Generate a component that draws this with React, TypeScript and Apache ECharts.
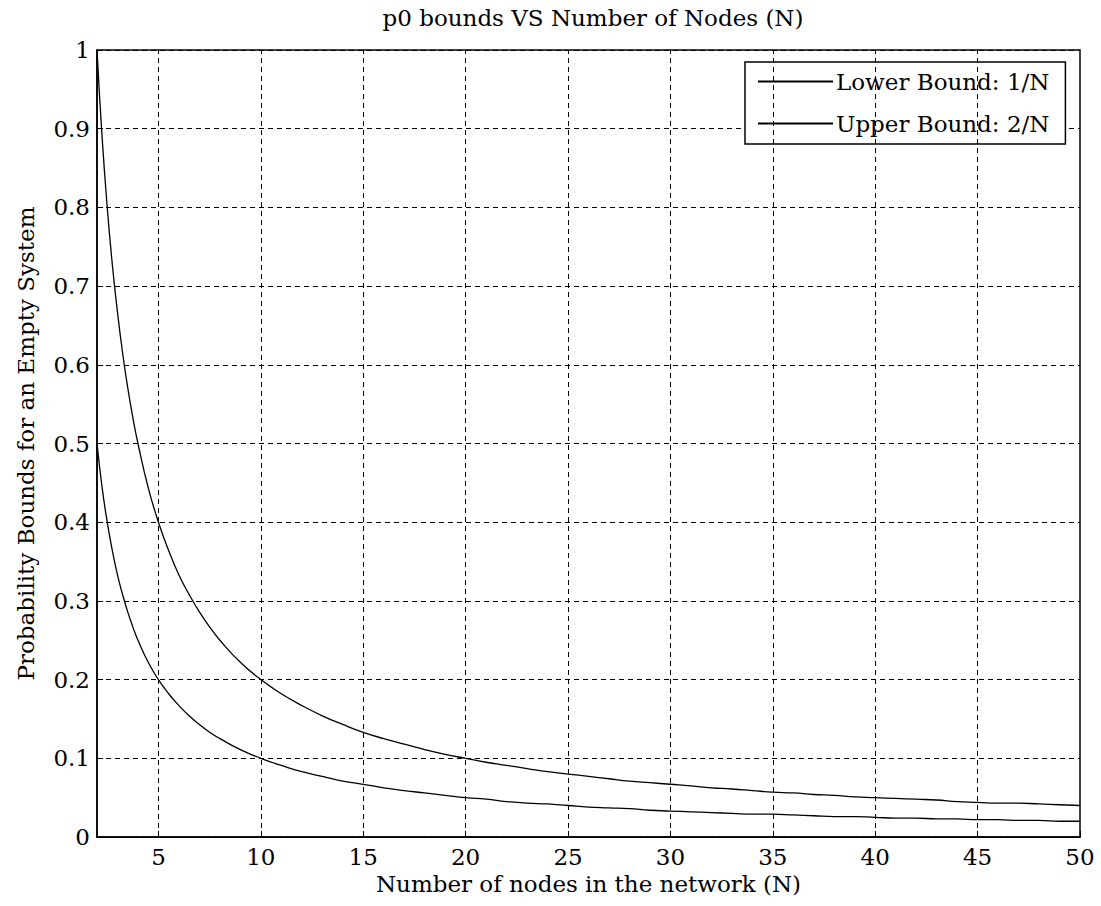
import React, { useEffect, useRef } from "react";
import * as echarts from "echarts";

const titleText = "p0 bounds VS Number of Nodes (N)";
const xName = "Number of nodes in the network (N)";
const yName = "Probability Bounds for an Empty System";
const seriesNames = ["Lower Bound: 1/N", "Upper Bound: 2/N"];

const nodes = [
  2, 2.25, 2.5, 2.75, 3, 3.25, 3.5, 3.75, 4, 4.5, 5, 5.5, 6, 6.5, 7, 7.5, 8, 9,
  10, 11, 12, 13, 14, 15, 16, 17, 18, 19, 20, 21, 22, 23, 24, 25, 26, 27, 28, 29,
  30, 31, 32, 33, 34, 35, 36, 37, 38, 39, 40, 41, 42, 43, 44, 45, 46, 47, 48, 49, 50,
];
const lowerBound = [
  0.5, 0.444, 0.4, 0.364, 0.333, 0.308, 0.286, 0.267, 0.25, 0.222, 0.2, 0.182,
  0.167, 0.154, 0.143, 0.133, 0.125, 0.111, 0.1, 0.091, 0.083, 0.077, 0.071,
  0.067, 0.0625, 0.059, 0.056, 0.053, 0.05, 0.048, 0.045, 0.043, 0.042, 0.04,
  0.038, 0.037, 0.036, 0.034, 0.033, 0.032, 0.031, 0.03, 0.029, 0.029, 0.028,
  0.027, 0.026, 0.026, 0.025, 0.024, 0.024, 0.023, 0.023, 0.022, 0.022, 0.021,
  0.021, 0.02, 0.02,
];
const upperBound = [
  1.0, 0.889, 0.8, 0.727, 0.667, 0.615, 0.571, 0.533, 0.5, 0.444, 0.4, 0.364,
  0.333, 0.308, 0.286, 0.267, 0.25, 0.222, 0.2, 0.182, 0.167, 0.154, 0.143,
  0.133, 0.125, 0.118, 0.111, 0.105, 0.1, 0.095, 0.091, 0.087, 0.083, 0.08,
  0.077, 0.074, 0.071, 0.069, 0.067, 0.065, 0.0625, 0.061, 0.059, 0.057, 0.056,
  0.054, 0.053, 0.051, 0.05, 0.049, 0.048, 0.047, 0.045, 0.044, 0.043, 0.043,
  0.042, 0.041, 0.04,
];
const xTicks = [5, 10, 15, 20, 25, 30, 35, 40, 45, 50];

const FONT = "DejaVu Serif";
const FS = 23;

export default function App() {
  const ref = useRef<HTMLDivElement>(null);
  useEffect(() => {
    if (!ref.current) return;
    const chart = echarts.init(ref.current, undefined, { renderer: "svg" });
    const dashed = { color: "#000", width: 1, type: [5, 4] as any };
    chart.setOption({
      animation: false,
      backgroundColor: "#fff",
      title: {
        text: titleText,
        left: 588,
        textAlign: "center",
        top: 1,
        textStyle: { fontFamily: FONT, fontSize: FS, fontWeight: "normal", color: "#000" },
      },
      legend: {
        orient: "vertical",
        left: 745,
        top: 62,
        padding: [8, 16, 9, 12],
        itemGap: 19,
        itemWidth: 75,
        itemHeight: 14,
        borderColor: "#000",
        borderWidth: 1.5,
        borderRadius: 0,
        backgroundColor: "#fff",
        itemStyle: { opacity: 0 },
        textStyle: { fontFamily: FONT, fontSize: FS, color: "#000", padding: [0, 0, 0, -2] },
        data: seriesNames,
      },
      grid: {
        left: 97,
        right: 21,
        top: 50,
        bottom: 69,
        show: true,
        borderColor: "#000",
        borderWidth: 1.5,
        containLabel: false,
      },
      xAxis: {
        type: "value",
        min: 2,
        max: 50,
        name: xName,
        nameLocation: "middle",
        nameGap: 28,
        nameTextStyle: { fontFamily: FONT, fontSize: FS, color: "#000" },
        axisLine: { show: true, lineStyle: { color: "#000", width: 1.5 } },
        axisTick: { show: true, inside: true, length: 6, customValues: xTicks, lineStyle: { color: "#000" } },
        axisLabel: { customValues: xTicks, margin: 8, fontFamily: FONT, fontSize: FS, color: "#000" },
        splitLine: { show: false },
      },
      yAxis: {
        type: "value",
        min: 0,
        max: 1,
        interval: 0.1,
        name: yName,
        nameLocation: "middle",
        nameGap: 60,
        nameTextStyle: { fontFamily: FONT, fontSize: FS, color: "#000" },
        axisLine: { show: true, lineStyle: { color: "#000", width: 1.5 } },
        axisTick: { show: true, inside: true, length: 6, lineStyle: { color: "#000" } },
        axisLabel: { margin: 7, fontFamily: FONT, fontSize: FS, color: "#000" },
        splitLine: { show: true, lineStyle: dashed },
      },
      series: [
        {
          name: seriesNames[0],
          type: "line",
          data: nodes.map((n, i) => [n, lowerBound[i]]),
          symbol: "none",
          smooth: true,
          lineStyle: { color: "#000", width: 1.3 },
          itemStyle: { color: "#000" },
          markLine: {
            silent: true,
            symbol: "none",
            label: { show: false },
            lineStyle: dashed,
            data: xTicks.filter((v) => v < 50).map((v) => ({ xAxis: v })),
          },
        },
        {
          name: seriesNames[1],
          type: "line",
          data: nodes.map((n, i) => [n, upperBound[i]]),
          symbol: "none",
          smooth: true,
          lineStyle: { color: "#000", width: 1.3 },
          itemStyle: { color: "#000" },
        },
      ],
    });
    return () => chart.dispose();
  }, []);
  return (
    <div
      ref={ref}
      style={{ position: "absolute", left: 0, top: 0, width: 1101, height: 906 }}
    />
  );
}
